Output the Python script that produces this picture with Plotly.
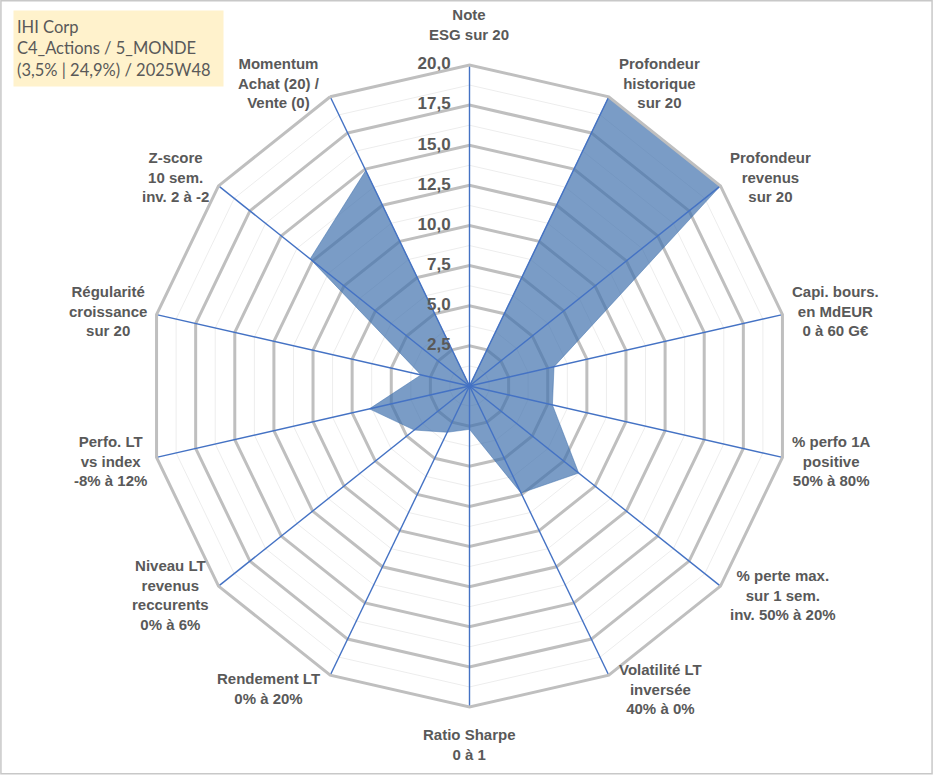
import math
import plotly.graph_objects as go

categories = [
    "Note<br>ESG sur 20",
    "Profondeur<br>historique<br>sur 20",
    "Profondeur<br>revenus<br>sur 20",
    "Capi. bours.<br>en MdEUR<br>0 à 60 G€",
    "% perfo 1A<br>positive<br>50% à 80%",
    "% perte max.<br>sur 1 sem.<br>inv. 50% à 20%",
    "Volatilité LT<br>inversée<br>40% à 0%",
    "Ratio Sharpe<br>0 à 1",
    "Rendement LT<br>0% à 20%",
    "Niveau LT<br>revenus<br>reccurents<br>0% à 6%",
    "Perfo. LT<br>vs index<br>-8% à 12%",
    "Régularité<br>croissance<br>sur 20",
    "Z-score<br>10 sem.<br>inv. 2 à -2",
    "Momentum<br>Achat (20) /<br>Vente (0)",
]
values = [0, 20, 20, 5.4, 5.3, 8.7, 7.4, 2.7, 3.2, 4.4, 6.4, 3.1, 12.7, 14.9]

radial_ticks = [0, 2.5, 5, 7.5, 10, 12.5, 15, 17.5, 20]
radial_tick_labels = ["0,0", "2,5", "5,0", "7,5", "10,0", "12,5", "15,0", "17,5", "20,0"]
minor_rings = [1.25, 3.75, 6.25, 8.75, 11.25, 13.75, 16.25, 18.75]

title_lines = ["IHI Corp", "C4_Actions / 5_MONDE", "(3,5% | 24,9%) / 2025W48"]

GRAY_TXT = "#595959"
BLUE = "#4472C4"
R_MAX = 20

# geometry of the polar area (pixels)
W, H = 933, 776
cx, cy, rpx = 469.5, 386.0, 321.0
dom_x = [(cx - rpx) / W, (cx + rpx) / W]
dom_y = [(H - cy - rpx) / H, (H - cy + rpx) / H]

fig = go.Figure()

for m in minor_rings:
    fig.add_trace(go.Scatterpolar(
        r=[m] * (len(categories) + 1), theta=categories + categories[:1],
        mode="lines", line=dict(color="#EDEDED", width=1),
        hoverinfo="skip", showlegend=False))

fig.add_trace(go.Scatterpolar(
    r=values + values[:1], theta=categories + categories[:1],
    mode="lines", fill="toself",
    fillcolor="rgba(65,114,174,0.7)",
    line=dict(color="rgba(65,114,174,0.5)", width=1),
    hoverinfo="skip", showlegend=False))

sr, st = [], []
for c in categories:
    sr += [0, R_MAX, None]
    st += [c, c, c]
fig.add_trace(go.Scatterpolar(
    r=sr, theta=st, mode="lines", line=dict(color=BLUE, width=1.4),
    connectgaps=False, hoverinfo="skip", showlegend=False))

nb = "\u00a0"
fig.add_trace(go.Scatterpolar(
    r=radial_ticks, theta=[categories[0]] * len(radial_ticks),
    mode="text", text=[t + nb * 4 for t in radial_tick_labels],
    textposition="middle left",
    textfont=dict(family="Liberation Sans", size=17, color=GRAY_TXT, weight="bold"),
    hoverinfo="skip", showlegend=False, cliponaxis=False))

# category labels, placed Excel-like next to the outer vertex of each spoke
annotations = []
n = len(categories)
for i, c in enumerate(categories):
    a = 2 * math.pi * i / n
    s, co = math.sin(a), math.cos(a)
    px = cx + rpx * s
    py = cy - rpx * co
    if abs(s) < 0.05:
        xa = "center"
        ya = "bottom" if co > 0 else "top"
        xs, ys = 0, (20 if co > 0 else -17)
    else:
        xa = "left" if s > 0 else "right"
        ya = "middle"
        xs, ys = (8 if s > 0 else -8), 15 * co
    annotations.append(dict(
        text=c, xref="paper", yref="paper", x=px / W, y=(H - py) / H,
        xanchor=xa, yanchor=ya, xshift=xs, yshift=ys, align="center",
        showarrow=False,
        font=dict(family="Liberation Sans", size=15, color=GRAY_TXT, weight="bold"),
    ))

annotations.append(dict(
    text="<br>".join(title_lines),
    xref="paper", yref="paper", x=13 / W, y=1 - 10 / H,
    xanchor="left", yanchor="top", align="left", showarrow=False,
    bgcolor="#FFF2CC", width=203, height=69, borderpad=3,
    font=dict(family="Lato", size=16.5, color=GRAY_TXT),
))

fig.update_layout(
    width=W, height=H,
    margin=dict(l=0, r=0, t=0, b=0),
    paper_bgcolor="white",
    polar=dict(
        domain=dict(x=dom_x, y=dom_y),
        bgcolor="rgba(0,0,0,0)",
        gridshape="linear",
        radialaxis=dict(
            range=[0, R_MAX], tickvals=radial_ticks, showticklabels=False,
            showline=False, ticks="", gridcolor="#BFBFBF", gridwidth=3,
            angle=90,
        ),
        angularaxis=dict(
            type="category", categoryarray=categories,
            direction="clockwise", rotation=90,
            showgrid=False, showline=True, linecolor="#BFBFBF", linewidth=3,
            ticks="", showticklabels=False,
        ),
    ),
    annotations=annotations,
    shapes=[dict(type="rect", xref="paper", yref="paper", x0=0.001, y0=0.003, x1=0.999, y1=0.999,
                 line=dict(color="#C8C8C8", width=1.5))],
)

fig.write_html("out.html", post_script="document.body.style.margin='0';",
               config={"displayModeBar": False})
